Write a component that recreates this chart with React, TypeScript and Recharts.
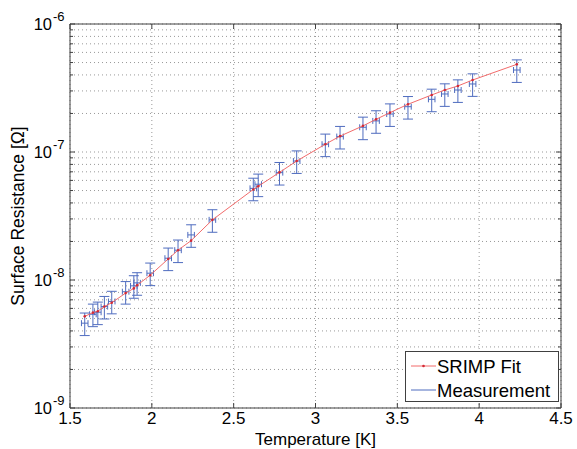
import React from 'react';
import {
  ComposedChart,
  Line,
  Scatter,
  ErrorBar,
  XAxis,
  YAxis,
  CartesianGrid,
  ReferenceArea,
  Label,
} from 'recharts';

// temperature of each measurement [K]
const TEMPS = [
  1.59, 1.64, 1.67, 1.71, 1.755, 1.84, 1.89, 1.91, 1.99, 2.1, 2.16, 2.24, 2.37, 2.62,
  2.65, 2.78, 2.885, 3.06, 3.15, 3.29, 3.37, 3.455, 3.565, 3.71, 3.79, 3.87, 3.96, 4.23,
];
// measured surface resistance [nOhm]
const MEAS_NOHM = [
  4.6, 5.4, 5.6, 6.2, 6.8, 8.1, 9.0, 9.5, 11.3, 14.8, 17.1, 22.5, 29.5, 52, 56, 69, 85,
  115, 132, 156, 175, 198, 226, 258, 284, 305, 340, 437,
];
// error on the measurement [nOhm]
const MEAS_ERR_NOHM = [
  0.92, 1.08, 1.12, 1.24, 1.36, 1.62, 1.8, 1.9, 2.26, 2.96, 3.42, 4.5, 5.9, 10.4, 11.2,
  13.8, 17, 23, 26.4, 31.2, 35, 39.6, 45.2, 51.6, 56.8, 61, 68, 87.4,
];
// temperature error [K]
const TEMP_ERR = [
  0.02, 0.02, 0.02, 0.02, 0.02, 0.02, 0.02, 0.02, 0.02, 0.02, 0.02, 0.02, 0.02, 0.02,
  0.02, 0.02, 0.02, 0.02, 0.02, 0.02, 0.02, 0.02, 0.02, 0.02, 0.02, 0.02, 0.02, 0.02,
];
// SRIMP fit at the same temperatures [nOhm]
const FIT_NOHM = [
  5.2, 5.56, 5.7, 6.2, 6.65, 7.9, 8.6, 9.1, 10.9, 14.6, 17.1, 20.3, 29.5, 51, 54, 69.3,
  85, 115, 133, 160, 180, 203, 236, 279, 305, 328, 365, 484,
];

const X_TICKS = [1.5, 2, 2.5, 3, 3.5, 4, 4.5];
const Y_TICKS = [
  1e-9, 2e-9, 3e-9, 4e-9, 5e-9, 6e-9, 7e-9, 8e-9, 9e-9,
  1e-8, 2e-8, 3e-8, 4e-8, 5e-8, 6e-8, 7e-8, 8e-8, 9e-8,
  1e-7, 2e-7, 3e-7, 4e-7, 5e-7, 6e-7, 7e-7, 8e-7, 9e-7,
  1e-6,
];

const WIDTH = 577;
const HEIGHT = 449;
const MARGIN = { top: 24, right: 16, bottom: 0, left: 0 };
const Y_AXIS_W = 70;
const X_AXIS_H = 41;
const PLOT_LEFT = MARGIN.left + Y_AXIS_W;
const PLOT_RIGHT = WIDTH - MARGIN.right;
const PLOT_TOP = MARGIN.top;
const PLOT_BOTTOM = HEIGHT - MARGIN.bottom - X_AXIS_H;

const FONT = '"Liberation Sans", Arial, sans-serif';
const AXIS = '#404040';
const GRID = '#999999';
const BLUE = '#4f6cbf';
const RED = '#f26b6b';
const RED_DOT = '#d42a36';

const data = TEMPS.map((t, i) => ({
  t,
  meas: MEAS_NOHM[i] * 1e-9,
  yErr: MEAS_ERR_NOHM[i] * 1e-9,
  xErr: TEMP_ERR[i],
  fit: FIT_NOHM[i] * 1e-9,
}));

function XTick(props: any) {
  const { x, payload } = props;
  return (
    <g>
      <line x1={x} x2={x} y1={PLOT_BOTTOM} y2={PLOT_BOTTOM - 5} stroke={AXIS} />
      <line x1={x} x2={x} y1={PLOT_TOP} y2={PLOT_TOP + 5} stroke={AXIS} />
      <text
        x={x}
        y={PLOT_BOTTOM + 16}
        textAnchor="middle"
        fontSize={17}
        fontFamily={FONT}
        fill="#000"
      >
        {payload.value}
      </text>
    </g>
  );
}

function YTick(props: any) {
  const { y, payload } = props;
  const lg = Math.log10(payload.value);
  const exp = Math.round(lg);
  const major = Math.abs(lg - exp) < 1e-6;
  const len = major ? 5 : 3;
  return (
    <g>
      <line x1={PLOT_LEFT} x2={PLOT_LEFT + len} y1={y} y2={y} stroke={AXIS} />
      <line x1={PLOT_RIGHT} x2={PLOT_RIGHT - len} y1={y} y2={y} stroke={AXIS} />
      {major && (
        <text
          x={PLOT_LEFT - 18}
          y={y + 6}
          textAnchor="end"
          fontSize={16.5}
          fontFamily={FONT}
          fill="#000"
        >
          10
        </text>
      )}
      {major && (
        <text x={PLOT_LEFT - 17} y={y - 3} fontSize={13} fontFamily={FONT} fill="#000">
          {exp}
        </text>
      )}
    </g>
  );
}

function Legend() {
  return (
    <svg
      width={155}
      height={52}
      style={{ position: 'absolute', left: 405, top: 351 }}
    >
      <rect x={0.5} y={0.5} width={153} height={50} fill="#fff" stroke={AXIS} />
      <line x1={6} x2={31} y1={15} y2={15} stroke={RED} />
      <circle cx={18.5} cy={15} r={1.3} fill={RED_DOT} />
      <text x={32} y={21.5} fontSize={18.5} fontFamily={FONT} fill="#000">
        SRIMP Fit
      </text>
      <line x1={6} x2={31} y1={39} y2={39} stroke={BLUE} />
      <text x={32} y={45.5} fontSize={18.5} fontFamily={FONT} fill="#000">
        Measurement
      </text>
    </svg>
  );
}

export default function App() {
  return (
    <div
      style={{
        position: 'absolute',
        left: 0,
        top: 0,
        width: WIDTH,
        height: HEIGHT,
        background: '#fff',
      }}
    >
      <ComposedChart width={WIDTH} height={HEIGHT} data={data} margin={MARGIN}>
        <CartesianGrid stroke={GRID} strokeDasharray="1 3" />
        <XAxis
          dataKey="t"
          type="number"
          domain={[1.5, 4.5]}
          ticks={X_TICKS}
          interval={0}
          height={X_AXIS_H}
          tickSize={0}
          tickMargin={0}
          axisLine={false}
          tick={<XTick />}
          allowDataOverflow
        >
          <Label
            value="Temperature [K]"
            position="insideBottom"
            offset={4}
            style={{ fontSize: 17, fontFamily: FONT, fill: '#000' }}
          />
        </XAxis>
        <YAxis
          type="number"
          scale="log"
          domain={[1e-9, 1e-6]}
          ticks={Y_TICKS}
          interval={0}
          width={Y_AXIS_W}
          tickSize={0}
          tickMargin={0}
          axisLine={false}
          tick={<YTick />}
          allowDataOverflow
        >
          <Label
            value="Surface Resistance [Ω]"
            angle={-90}
            position="insideLeft"
            offset={18}
            style={{ fontSize: 17.5, fontFamily: FONT, fill: '#000', textAnchor: 'middle' }}
          />
        </YAxis>
        <ReferenceArea
          x1={1.5}
          x2={4.5}
          y1={1e-9}
          y2={1e-6}
          fill="none"
          stroke={AXIS}
          strokeWidth={1}
          ifOverflow="visible"
        />
        <Scatter
          dataKey="meas"
          shape={() => <g />}
          isAnimationActive={false}
          legendType="line"
        >
          <ErrorBar dataKey="yErr" direction="y" width={5} stroke={BLUE} strokeWidth={1} />
          <ErrorBar dataKey="xErr" direction="x" width={3} stroke={BLUE} strokeWidth={1} />
        </Scatter>
        <Line
          dataKey="fit"
          type="linear"
          stroke={RED}
          strokeWidth={1}
          dot={{ r: 1.3, fill: RED_DOT, stroke: RED_DOT, strokeWidth: 0 }}
          activeDot={false}
          isAnimationActive={false}
        />
      </ComposedChart>
      <Legend />
    </div>
  );
}
